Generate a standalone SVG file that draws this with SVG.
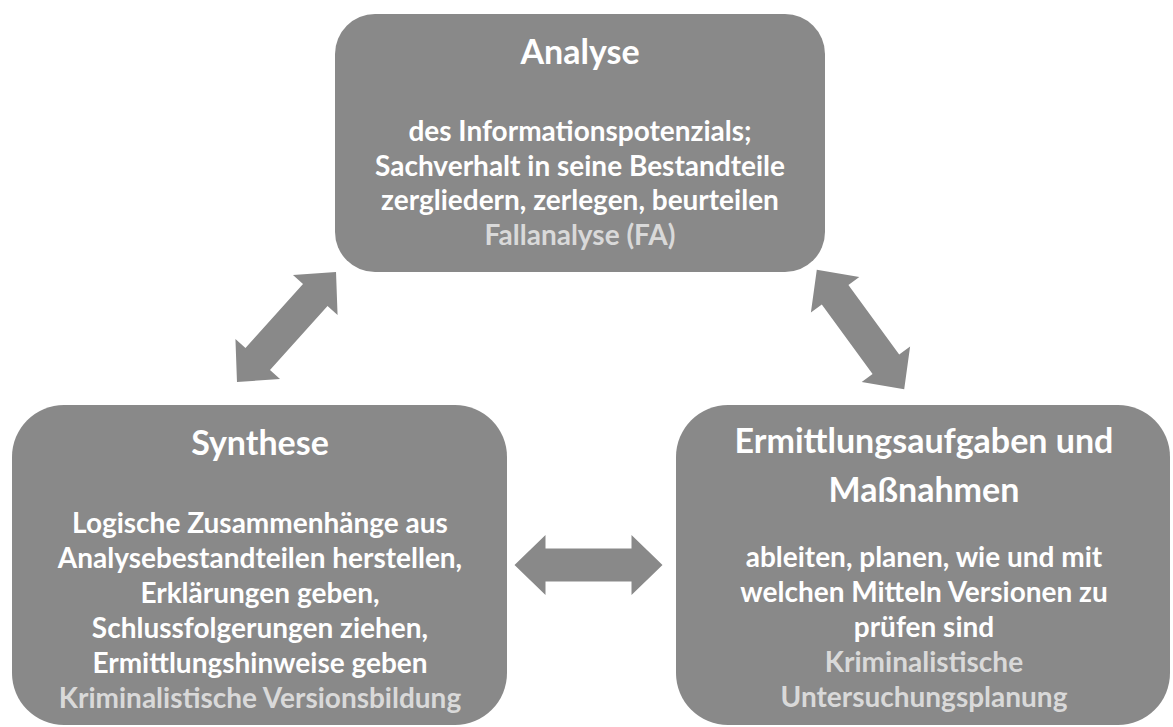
<svg xmlns="http://www.w3.org/2000/svg" xmlns:xlink="http://www.w3.org/1999/xlink" width="1173" height="727" viewBox="0 0 1173 727">
  <style>
    .box { fill: #898989; }
    .arrow { fill: #898989; }
    text { font-family: Lato, "Open Sans", "Liberation Sans", sans-serif; font-weight: bold; text-anchor: middle; fill: #ffffff; }
    .title { font-size: 34px; }
    .body { font-size: 28px; }
    .hint { fill: #d9d9d9; }
  </style>
  <defs>
    <!-- double-headed block arrow, centred on the origin, pointing along x -->
    <path id="dbl" d="M -74 0 L -43 -30 L -43 -16.5 L 43 -16.5 L 43 -30 L 74 0 L 43 30 L 43 16.5 L -43 16.5 L -43 30 Z"/>
  </defs>
  <rect width="1173" height="727" fill="#ffffff"/>

  <g id="connectors">
    <use xlink:href="#dbl" class="arrow" transform="translate(286.5 327) rotate(-48)"/>
    <use xlink:href="#dbl" class="arrow" transform="translate(860.5 329.5) rotate(53.8)"/>
    <use xlink:href="#dbl" class="arrow" transform="translate(588.5 565)"/>
  </g>

  <g id="analyse">
    <rect class="box" x="335" y="14" width="490" height="258" rx="40" ry="40"/>
    <text class="title" x="580" y="64">Analyse</text>
    <text class="body" x="580" y="141">des Informationspotenzials;</text>
    <text class="body" x="580" y="175.5">Sachverhalt in seine Bestandteile</text>
    <text class="body" x="580" y="210">zergliedern, zerlegen, beurteilen</text>
    <text class="body hint" x="580" y="244.5">Fallanalyse (FA)</text>
  </g>

  <g id="synthese">
    <rect class="box" x="12" y="405" width="495" height="320" rx="52" ry="52"/>
    <text class="title" x="260" y="455">Synthese</text>
    <text class="body" x="260" y="533">Logische Zusammenhänge aus</text>
    <text class="body" x="260" y="568">Analysebestandteilen herstellen,</text>
    <text class="body" x="260" y="603">Erklärungen geben,</text>
    <text class="body" x="260" y="638">Schlussfolgerungen ziehen,</text>
    <text class="body" x="260" y="673">Ermittlungshinweise geben</text>
    <text class="body hint" x="260" y="708">Kriminalistische Versionsbildung</text>
  </g>

  <g id="ermittlung">
    <rect class="box" x="676" y="405" width="494" height="320" rx="52" ry="52"/>
    <text class="title" x="924" y="453">Ermittlungsaufgaben und</text>
    <text class="title" x="924" y="502">Maßnahmen</text>
    <text class="body" x="924" y="567">ableiten, planen, wie und mit</text>
    <text class="body" x="924" y="602">welchen Mitteln Versionen zu</text>
    <text class="body" x="924" y="637">prüfen sind</text>
    <text class="body hint" x="924" y="672">Kriminalistische</text>
    <text class="body hint" x="924" y="707">Untersuchungsplanung</text>
  </g>
</svg>
